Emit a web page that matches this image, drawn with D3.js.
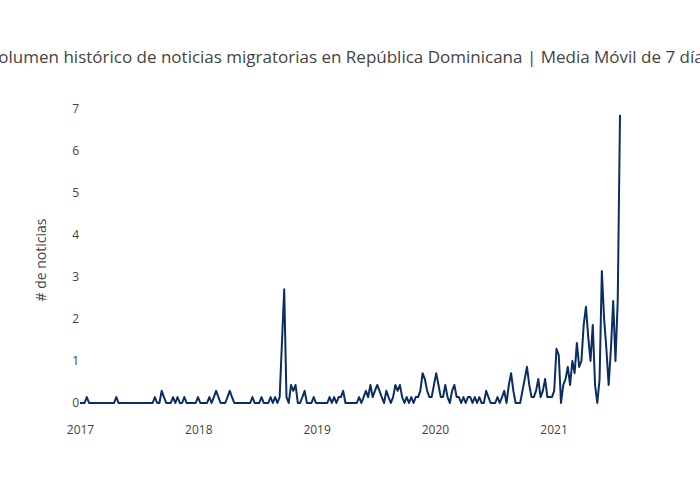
<!DOCTYPE html>
<html>
<head>
<meta charset="utf-8">
<script src="https://cdn.jsdelivr.net/npm/d3@7"></script>
<style>
  html, body { margin: 0; padding: 0; background: #fff; }
  svg { display: block; font-family: "Open Sans", "Noto Sans", sans-serif; }
</style>
</head>
<body>
<svg id="chart" width="700" height="500"></svg>
<script>
// Weekly samples of the 7-day moving average, first week starting 2017-01-01
const startDate = "2017-01-01";
const values = [
  0, 0, 0, 0.14, 0, 0, 0, 0, 0, 0, 0, 0, 0, 0, 0, 0,            // 0-15
  0.14, 0, 0, 0, 0, 0, 0, 0, 0, 0, 0, 0, 0, 0, 0, 0,            // 16-31
  0, 0.14, 0, 0, 0.29, 0.14, 0, 0, 0, 0.14, 0, 0.14, 0, 0, 0.14, 0, // 32-47
  0, 0, 0, 0, 0.14, 0, 0, 0, 0, 0.14, 0, 0.14, 0.29, 0.14, 0, 0, // 48-63
  0, 0.14, 0.29, 0.14, 0, 0, 0, 0, 0, 0, 0, 0, 0.14, 0, 0, 0,   // 64-79
  0.14, 0, 0, 0, 0.14, 0, 0.14, 0, 0.14, 1.43, 2.71, 0.14, 0, 0.43, 0.29, 0.43, // 80-95
  0, 0, 0.14, 0.29, 0, 0, 0, 0.14, 0, 0, 0, 0, 0, 0, 0.14, 0,   // 96-111
  0.14, 0, 0.14, 0.14, 0.29, 0, 0, 0, 0, 0, 0, 0.14, 0, 0.14, 0.29, 0.14, // 112-127
  0.43, 0.14, 0.29, 0.43, 0.29, 0.14, 0, 0.29, 0.14, 0, 0.14, 0.43, 0.29, 0.43, 0.14, 0, // 128-143
  0.14, 0, 0.14, 0, 0.14, 0.14, 0.29, 0.71, 0.57, 0.29, 0.14, 0.14, 0.43, 0.71, 0.43, 0.14, // 144-159
  0.14, 0.43, 0.14, 0, 0.29, 0.43, 0.14, 0.14, 0, 0.14, 0, 0.14, 0.14, 0, 0.14, 0, // 160-175
  0.14, 0, 0, 0.29, 0.14, 0, 0, 0, 0.14, 0, 0.14, 0.29, 0, 0.43, 0.71, 0.29, // 176-191
  0, 0, 0, 0.29, 0.57, 0.86, 0.43, 0.14, 0.14, 0.29, 0.57, 0.14, 0.29, 0.57, 0.14, 0.14, // 192-207
  0.14, 0.29, 1.29, 1.14, 0, 0.43, 0.57, 0.86, 0.43, 1.0, 0.71, 1.43, 0.86, 1.0, 1.86, 2.29, // 208-223
  1.57, 1.0, 1.86, 0.43, 0, 0.57, 3.14, 2.0, 1.29, 0.43, 1.29, 2.43, 1.0, 2.43, 6.86 // 224-238
];
const yTicks = [0, 1, 2, 3, 4, 5, 6, 7];
const xTickYears = [2017, 2018, 2019, 2020, 2021];

const titleText = "Volumen histórico de noticias migratorias en República Dominicana | Media Móvil de 7 días";
const yTitle = "# de noticias";

const start = new Date(startDate + "T00:00:00Z");
const dates = values.map((v, i) => d3.utcDay.offset(start, 7 * i));
const data = values.map((v, i) => ({ date: dates[i], value: v }));

const svg = d3.select("#chart");
const plotLeft = 80, plotRight = 620, plotTop = 100, plotBottom = 420;

const x = d3.scaleUtc().domain([dates[0], dates[dates.length - 1]]).range([plotLeft, plotRight]);
const y = d3.scaleLinear().domain([0, 7]).range([403, 109]);

// Title
svg.append("text")
  .attr("x", 350).attr("y", 63)
  .attr("text-anchor", "middle")
  .attr("font-size", 17)
  .attr("fill", "#444")
  .text(titleText);

// Y axis
const yAxis = d3.axisLeft(y).tickValues(yTicks).tickSize(0).tickPadding(0).tickFormat(d3.format("d"));
const gy = svg.append("g").attr("transform", `translate(${plotLeft - 1},0)`).call(yAxis);
gy.select(".domain").remove();
gy.selectAll("text").attr("font-size", 12).attr("fill", "#444").attr("font-family", "'Open Sans', sans-serif");

// X axis
const xAxis = d3.axisBottom(x)
  .tickValues(xTickYears.map(yr => new Date(Date.UTC(yr, 0, 1))))
  .tickSize(0).tickPadding(0)
  .tickFormat(d3.utcFormat("%Y"));
const gx = svg.append("g").attr("transform", `translate(0,${plotBottom})`).call(xAxis);
gx.select(".domain").remove();
gx.selectAll("text").attr("font-size", 12).attr("fill", "#444").attr("dy", "1.15em").attr("font-family", "'Open Sans', sans-serif");

// Y axis title
svg.append("text")
  .attr("transform", `translate(46,${(plotTop + plotBottom) / 2}) rotate(-90)`)
  .attr("text-anchor", "middle")
  .attr("font-size", 14)
  .attr("fill", "#444")
  .text(yTitle);

// Line
const line = d3.line()
  .x(d => x(d.date))
  .y(d => y(d.value))
  .curve(d3.curveLinear);

svg.append("path")
  .datum(data)
  .attr("fill", "none")
  .attr("stroke", "#0a2d63")
  .attr("stroke-width", 2)
  .attr("stroke-linejoin", "round")
  .attr("d", line);
</script>
</body>
</html>
